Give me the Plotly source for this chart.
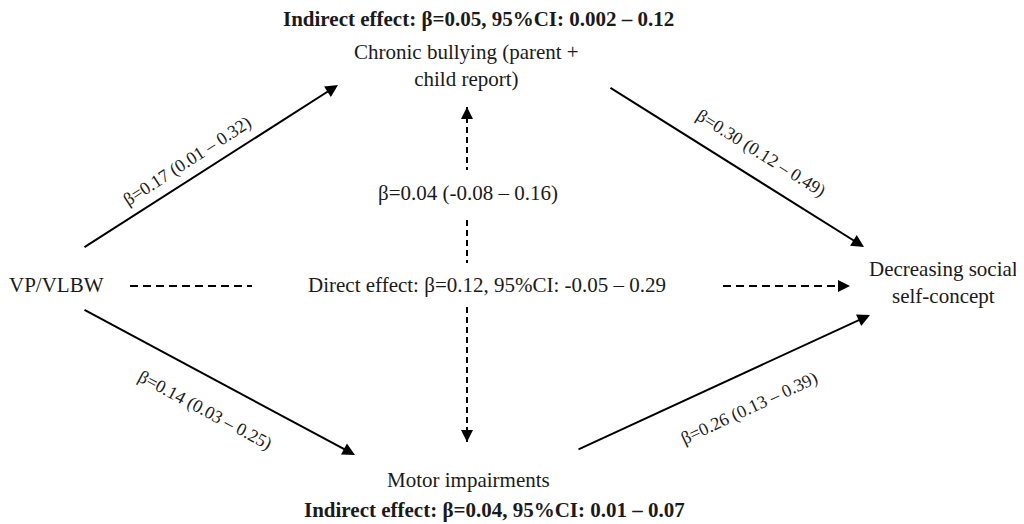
import plotly.graph_objects as go

# ---- diagram content ----
node_labels = ["VP/VLBW", "Chronic bullying (parent +<br>child report)",
               "Motor impairments", "Decreasing social<br>self-concept"]
node_x = [56, 466, 468, 943]
node_y = [285, 65, 480, 282]

# solid paths (start -> tip)
path_x0 = [83, 609, 83, 577]
path_y0 = [248, 87, 309, 450]
path_x1 = [338, 864, 355, 870]
path_y1 = [85, 247, 455, 315]
coef_labels = ["β=0.17 (0.01 – 0.32)", "β=0.30 (0.12 – 0.49)",
               "β=0.14 (0.03 – 0.25)", "β=0.26 (0.13 – 0.39)"]
coef_x = [187, 761, 205, 749]
coef_y = [161, 153, 410, 408]
coef_angle = [-33, 32, 28, -25]

# dashed segments
hdash_x = [[130, 252], [723, 850]]
hdash_y = 286
vdash_y = [[107, 170], [220, 263], [307, 442]]
vdash_x = 467
dash_tips = [(850, 286, 842, 286), (467, 107, 467, 115), (467, 442, 467, 434)]

effect_labels = ["<b>Indirect effect: β=0.05, 95%CI: 0.002 – 0.12</b>",
                 "<b>Indirect effect: β=0.04, 95%CI: 0.01 – 0.07</b>",
                 "Direct effect: β=0.12, 95%CI: -0.05 – 0.29",
                 "β=0.04 (-0.08 – 0.16)"]
effect_x = [478, 494, 487, 468]
effect_y = [19, 510, 285, 193]

FONT = "Liberation Serif"
TXT = "#1a1a1a"
OFF = 8  # page body margin

fig = go.Figure()

for xs in hdash_x:
    fig.add_trace(go.Scatter(x=xs, y=[hdash_y, hdash_y], mode="lines",
                             line=dict(color="black", width=2, dash="8px,5px"),
                             hoverinfo="skip", showlegend=False))
for ys in vdash_y:
    fig.add_trace(go.Scatter(x=[vdash_x, vdash_x], y=ys, mode="lines",
                             line=dict(color="black", width=2, dash="6px,4px"),
                             hoverinfo="skip", showlegend=False))

ann = []
for x0, y0, x1, y1 in zip(path_x0, path_y0, path_x1, path_y1):
    ann.append(dict(x=x1, y=y1, ax=x0, ay=y0, xref="x", yref="y", axref="x", ayref="y",
                    text="", showarrow=True, arrowhead=2, arrowsize=1.25, arrowwidth=2,
                    arrowcolor="black", standoff=0))
for x1, y1, x0, y0 in dash_tips:
    ann.append(dict(x=x1, y=y1, ax=x0, ay=y0, xref="x", yref="y", axref="x", ayref="y",
                    text="", showarrow=True, arrowhead=2, arrowsize=1.2, arrowwidth=2,
                    arrowcolor="black", standoff=0))
for t, x, y in zip(node_labels, node_x, node_y):
    ann.append(dict(x=x, y=y, xref="x", yref="y", text=t, showarrow=False,
                    font=dict(family=FONT, size=21, color=TXT)))
for t, x, y, a in zip(coef_labels, coef_x, coef_y, coef_angle):
    ann.append(dict(x=x, y=y, xref="x", yref="y", text=t, showarrow=False, textangle=a,
                    font=dict(family=FONT, size=18, color=TXT)))
for t, x, y in zip(effect_labels, effect_x, effect_y):
    ann.append(dict(x=x, y=y, xref="x", yref="y", text=t, showarrow=False,
                    font=dict(family=FONT, size=21, color=TXT)))

W, H = 1024, 524
fig.update_layout(
    width=W - OFF, height=H - OFF, margin=dict(l=0, r=0, t=0, b=0),
    paper_bgcolor="white", plot_bgcolor="white",
    xaxis=dict(range=[OFF, W], visible=False, fixedrange=True),
    yaxis=dict(range=[H, OFF], visible=False, fixedrange=True),
    annotations=ann, showlegend=False,
)

fig.write_html("out.html")
